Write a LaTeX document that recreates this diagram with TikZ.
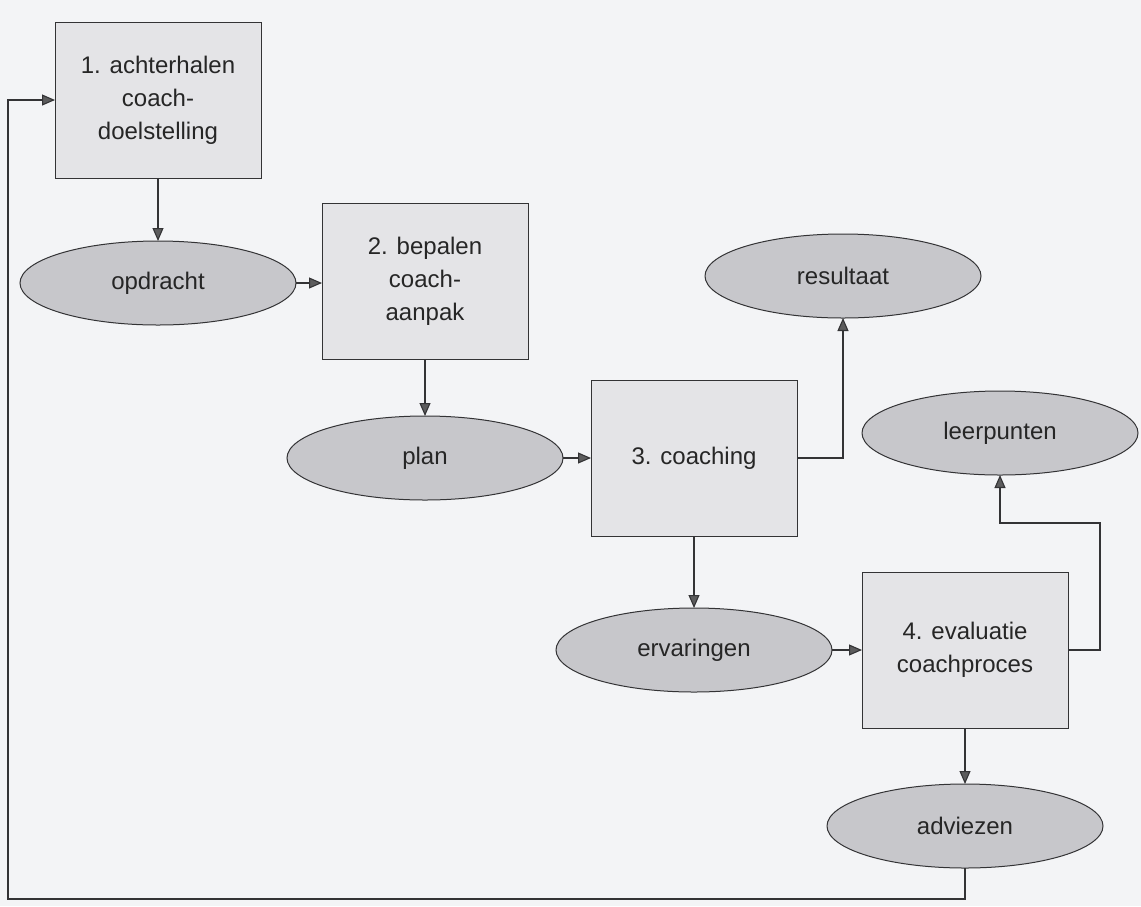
\documentclass[tikz,border=0pt]{standalone}
\usepackage{fontspec}
\setmainfont{Liberation Sans}
\usetikzlibrary{shapes.geometric,arrows.meta}
\definecolor{paper}{HTML}{F3F4F6}
\definecolor{boxfill}{HTML}{E4E4E7}
\definecolor{ovalfill}{HTML}{C7C7CB}
\definecolor{ink}{HTML}{333335}
\definecolor{textink}{HTML}{262626}
\begin{document}
\begin{tikzpicture}[x=1pt,y=-1pt,
  stepbox/.style={draw=ink, fill=boxfill, line width=1pt, minimum width=206pt,
    minimum height=156pt, inner sep=0pt, outer sep=0pt, align=center,
    text=textink, font=\fontsize{24}{33}\selectfont},
  result/.style={ellipse, draw=ink, fill=ovalfill, line width=1pt,
    minimum width=276pt, minimum height=84pt, inner sep=0pt, outer sep=0pt,
    text=textink, font=\fontsize{24}{32}\selectfont},
  flow/.style={draw=ink, line width=1.1pt,
    -{Triangle[length=13pt,width=11pt,fill=ink!80]}}]
\fill[paper] (0,0) rectangle (1141,906);
\useasboundingbox (0,0) rectangle (1141,906);

% steps and their products
\node[stepbox] (s1) at (158,100) {1. achterhalen\\coach-\\doelstelling};
\node[result] (opdracht) at (158,283) {opdracht};
\node[stepbox] (s2) at (425,281) {2. bepalen\\coach-\\aanpak};
\node[result] (plan) at (425,458) {plan};
\node[stepbox] (s3) at (694,458) {3. coaching};
\node[result] (resultaat) at (843,276) {resultaat};
\node[result] (leerpunten) at (1000,433) {leerpunten};
\node[result] (ervaringen) at (694,650) {ervaringen};
\node[stepbox] (s4) at (965,650) {4. evaluatie\\coachproces};
\node[result] (adviezen) at (965,826) {adviezen};

% corner points of the routed connectors
\coordinate (lp) at (1100,523);
\coordinate (back) at (8,899);

% connectors
\draw[flow] (s1) -- (opdracht);
\draw[flow] (opdracht.east) -- (opdracht.east -| s2.west);
\draw[flow] (s2) -- (plan);
\draw[flow] (plan) -- (s3);
\draw[flow] (s3.east) -| (resultaat.south);
\draw[flow] (s3) -- (ervaringen);
\draw[flow] (ervaringen) -- (s4);
\draw[flow] (s4.east) -| (lp) -| (leerpunten.south);
\draw[flow] (s4) -- (adviezen);
\draw[flow] (adviezen.south) |- (back) |- (s1.west);
\end{tikzpicture}
\end{document}
